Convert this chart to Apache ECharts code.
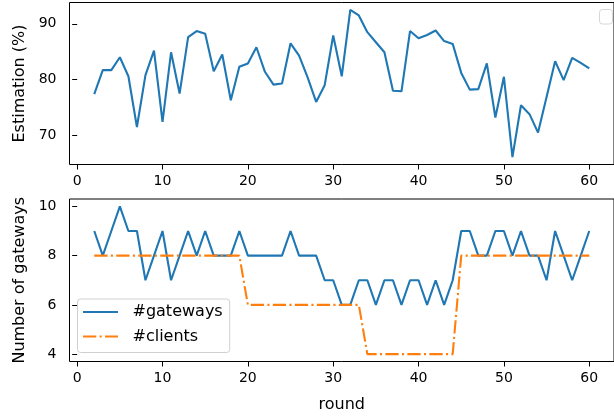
<!DOCTYPE html>
<html>
<head>
<meta charset="utf-8">
<script src="https://cdn.jsdelivr.net/npm/echarts@6/dist/echarts.min.js"></script>
<style>
  html, body { margin: 0; padding: 0; background: #fff; }
  #chart { width: 614px; height: 416px; }
</style>
</head>
<body>
<div id="chart"></div>
<script>
// Rounds 2..60
const rounds = [2, 3, 4, 5, 6, 7, 8, 9, 10, 11, 12, 13, 14, 15, 16, 17, 18, 19, 20,
  21, 22, 23, 24, 25, 26, 27, 28, 29, 30, 31, 32, 33, 34, 35, 36, 37, 38, 39, 40,
  41, 42, 43, 44, 45, 46, 47, 48, 49, 50, 51, 52, 53, 54, 55, 56, 57, 58, 59, 60];

// Estimation accuracy per round (%)
const estimation = [77.4, 81.7, 81.7, 84.0, 80.6, 71.5, 80.8, 85.2, 72.4, 84.9,
  77.5, 87.6, 88.7, 88.2, 81.5, 84.5, 76.3, 82.3, 82.9, 85.8,
  81.4, 79.1, 79.3, 86.5, 84.3, 80.4, 76.0, 79.0, 87.9, 80.6,
  92.5, 91.5, 88.5, 86.7, 84.9, 78.0, 77.9, 88.7, 87.4, 88.0,
  88.8, 86.9, 86.4, 81.2, 78.2, 78.3, 82.9, 73.2, 80.5, 66.1,
  75.4, 73.8, 70.5, 76.9, 83.3, 79.9, 83.9, 83.0, 82.0];

// Number of gateways per round
const gateways = [9, 8, 9, 10, 9, 9, 7, 8, 9, 7, 8, 9, 8, 9, 8, 8, 8, 9, 8, 8,
  8, 8, 8, 9, 8, 8, 8, 7, 7, 6, 6, 7, 7, 6, 7, 7, 6, 7, 7, 6,
  7, 6, 7, 9, 9, 8, 8, 9, 9, 8, 9, 8, 8, 7, 9, 8, 7, 8, 9];

// Number of clients per round
const clients = [8, 8, 8, 8, 8, 8, 8, 8, 8, 8, 8, 8, 8, 8, 8, 8, 8, 8,
  6, 6, 6, 6, 6, 6, 6, 6, 6, 6, 6, 6, 6, 6,
  4, 4, 4, 4, 4, 4, 4, 4, 4, 4, 4,
  8, 8, 8, 8, 8, 8, 8, 8, 8, 8, 8, 8, 8, 8, 8, 8];

// Tick positions
const xTicks = [0, 10, 20, 30, 40, 50, 60];
const estTicks = [70, 80, 90];
const countTicks = [4, 6, 8, 10];

const FONT = 'DejaVu Sans';
const BLUE = '#1f77b4';
const ORANGE = '#ff7f0e';

const pair = (xs, ys) => xs.map((x, i) => [x, ys[i]]);

function xAxisCfg(gridIndex, extra) {
  return Object.assign({
    type: 'value', gridIndex: gridIndex, min: -0.9, max: 62.9,
    axisLine: { show: false },
    splitLine: { show: false },
    axisTick: { show: true, customValues: xTicks, length: 5, lineStyle: { color: '#000', width: 1 } },
    axisLabel: { customValues: xTicks, margin: 10, color: '#000', fontFamily: FONT, fontSize: 14 }
  }, extra || {});
}

function yAxisCfg(gridIndex, min, max, ticks, name) {
  return {
    type: 'value', gridIndex: gridIndex, min: min, max: max,
    name: name, nameLocation: 'middle', nameRotate: 90, nameGap: 41,
    nameTextStyle: { color: '#000', fontFamily: FONT, fontSize: 16 },
    axisLine: { show: false },
    splitLine: { show: false },
    axisTick: { show: true, customValues: ticks, length: 5, lineStyle: { color: '#000', width: 1 } },
    axisLabel: { customValues: ticks, margin: 13, color: '#000', fontFamily: FONT, fontSize: 14 }
  };
}

const chart = echarts.init(document.getElementById('chart'), null, { renderer: 'canvas' });

chart.setOption({
  animation: false,
  backgroundColor: '#fff',
  grid: [
    { left: 69.5, top: 2.5, width: 551, height: 162, show: true, borderColor: '#000', borderWidth: 1, backgroundColor: 'transparent' },
    { left: 69.5, top: 199, width: 551, height: 162.5, show: true, borderColor: '#000', borderWidth: 1, backgroundColor: 'transparent' }
  ],
  xAxis: [
    xAxisCfg(0),
    xAxisCfg(1, { name: 'round', nameLocation: 'middle', nameGap: 35,
      nameTextStyle: { color: '#000', fontFamily: FONT, fontSize: 16 } })
  ],
  yAxis: [
    yAxisCfg(0, 64.78, 93.82, estTicks, 'Estimation (%)'),
    yAxisCfg(1, 3.7, 10.3, countTicks, 'Number of gateways')
  ],
  legend: {
    data: ['#gateways', '#clients'],
    orient: 'vertical',
    left: 77.5, top: 299,
    padding: [3, 7, 6, 4.5],
    itemGap: 4.5,
    itemWidth: 35, itemHeight: 14,
    itemStyle: { color: 'rgba(0,0,0,0)', borderWidth: 0, opacity: 0 },
    backgroundColor: 'rgba(255,255,255,0.8)',
    borderColor: '#d0d0d0', borderWidth: 1, borderRadius: 3,
    textStyle: { color: '#000', fontFamily: FONT, fontSize: 16, lineHeight: 20, padding: [0, 0, 0, 9.5] }
  },
  graphic: [
    {
      type: 'rect', z: 10,
      shape: { x: 599.5, y: 9.5, width: 13, height: 14.5, r: 3 },
      style: { fill: '#fff', stroke: '#d6d6d6', lineWidth: 1 }
    }
  ],
  series: [
    {
      name: 'estimation', type: 'line', xAxisIndex: 0, yAxisIndex: 0,
      data: pair(rounds, estimation), showSymbol: false, symbol: 'none',
      lineStyle: { color: BLUE, width: 2.1 }, itemStyle: { color: BLUE }
    },
    {
      name: '#gateways', type: 'line', xAxisIndex: 1, yAxisIndex: 1,
      data: pair(rounds, gateways), showSymbol: false, symbol: 'none',
      lineStyle: { color: BLUE, width: 2.1 }, itemStyle: { color: BLUE }
    },
    {
      name: '#clients', type: 'line', xAxisIndex: 1, yAxisIndex: 1,
      data: pair(rounds, clients), showSymbol: false, symbol: 'none',
      lineStyle: { color: ORANGE, width: 2.1, type: [13.3, 3.3, 2.1, 3.3] }, itemStyle: { color: ORANGE }
    }
  ]
});
</script>
</body>
</html>
